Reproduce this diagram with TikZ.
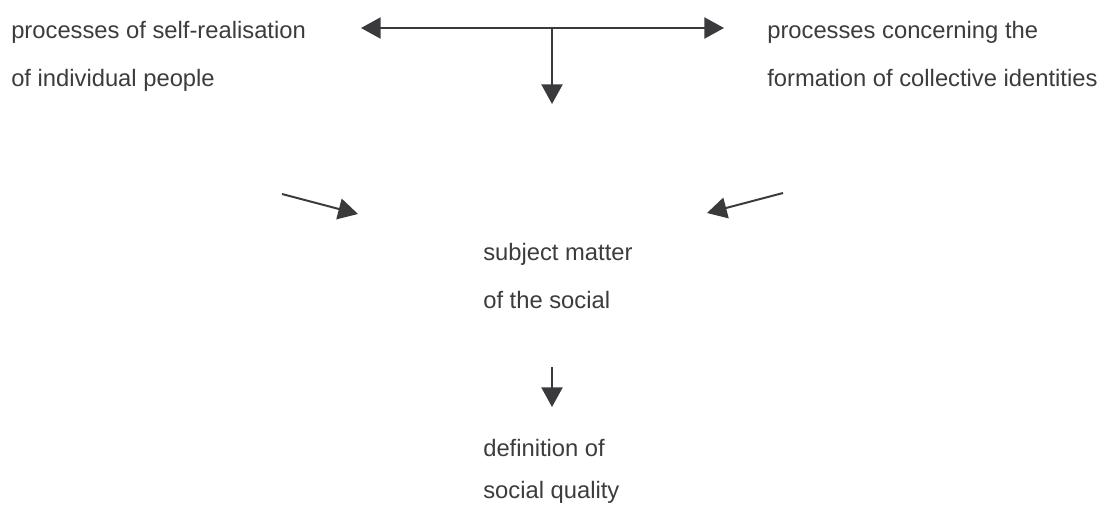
\documentclass[tikz,border=0pt]{standalone}
\usepackage{fontspec}
\setmainfont{Liberation Sans}
\usetikzlibrary{positioning,arrows.meta}
\definecolor{ink}{HTML}{3A3A3D}
\definecolor{txt}{HTML}{3C3C3C}
\tikzset{
  label text/.style={anchor=base west,align=left,inner sep=0pt,text=txt,
    font=\fontsize{16.9}{34}\selectfont},
  flow/.style={draw=ink,line width=1.4pt,-{Triangle[length=14pt,width=15pt]}}
}

\begin{document}
\begin{tikzpicture}[x=0.025cm,y=-0.025cm]
  \useasboundingbox (0,0) rectangle (1102,516);
  % base anchor sits on the last line
  \node[label text] (selfreal) at (11,86) {processes of self-realisation\\of individual people};
  \node[label text] (collective) at (767,86) {processes concerning the\\formation of collective identities};
  \node[label text] (subject) at (483,308) {subject matter\\of the social};
  \node[label text,font=\fontsize{16.9}{29.8}\selectfont] (definition) at (483,498) {definition of\\social quality};
  % top: two-sided arrow with a branch down
  \coordinate (hubL) at (361,28);
  \coordinate (hubR) at (724,28);
  \coordinate (hub) at (552,28);
  \coordinate (hubD) at (552,104);
  \draw[flow,{Triangle[length=14pt,width=15pt]}-{Triangle[length=14pt,width=15pt]}] (hubL) -- (hubR);
  \draw[flow] (hub) -- (hubD);
  % converging arrows
  \coordinate (inLs) at (282,194);
  \coordinate (inLe) at (358,214);
  \coordinate (inRs) at (783,193);
  \coordinate (inRe) at (707,213);
  \draw[flow] (inLs) -- (inLe);
  \draw[flow] (inRs) -- (inRe);
  % down to the definition
  \coordinate (midS) at (552,367);
  \coordinate (midE) at (552,407);
  \draw[flow] (midS) -- (midE);
\end{tikzpicture}
\end{document}
